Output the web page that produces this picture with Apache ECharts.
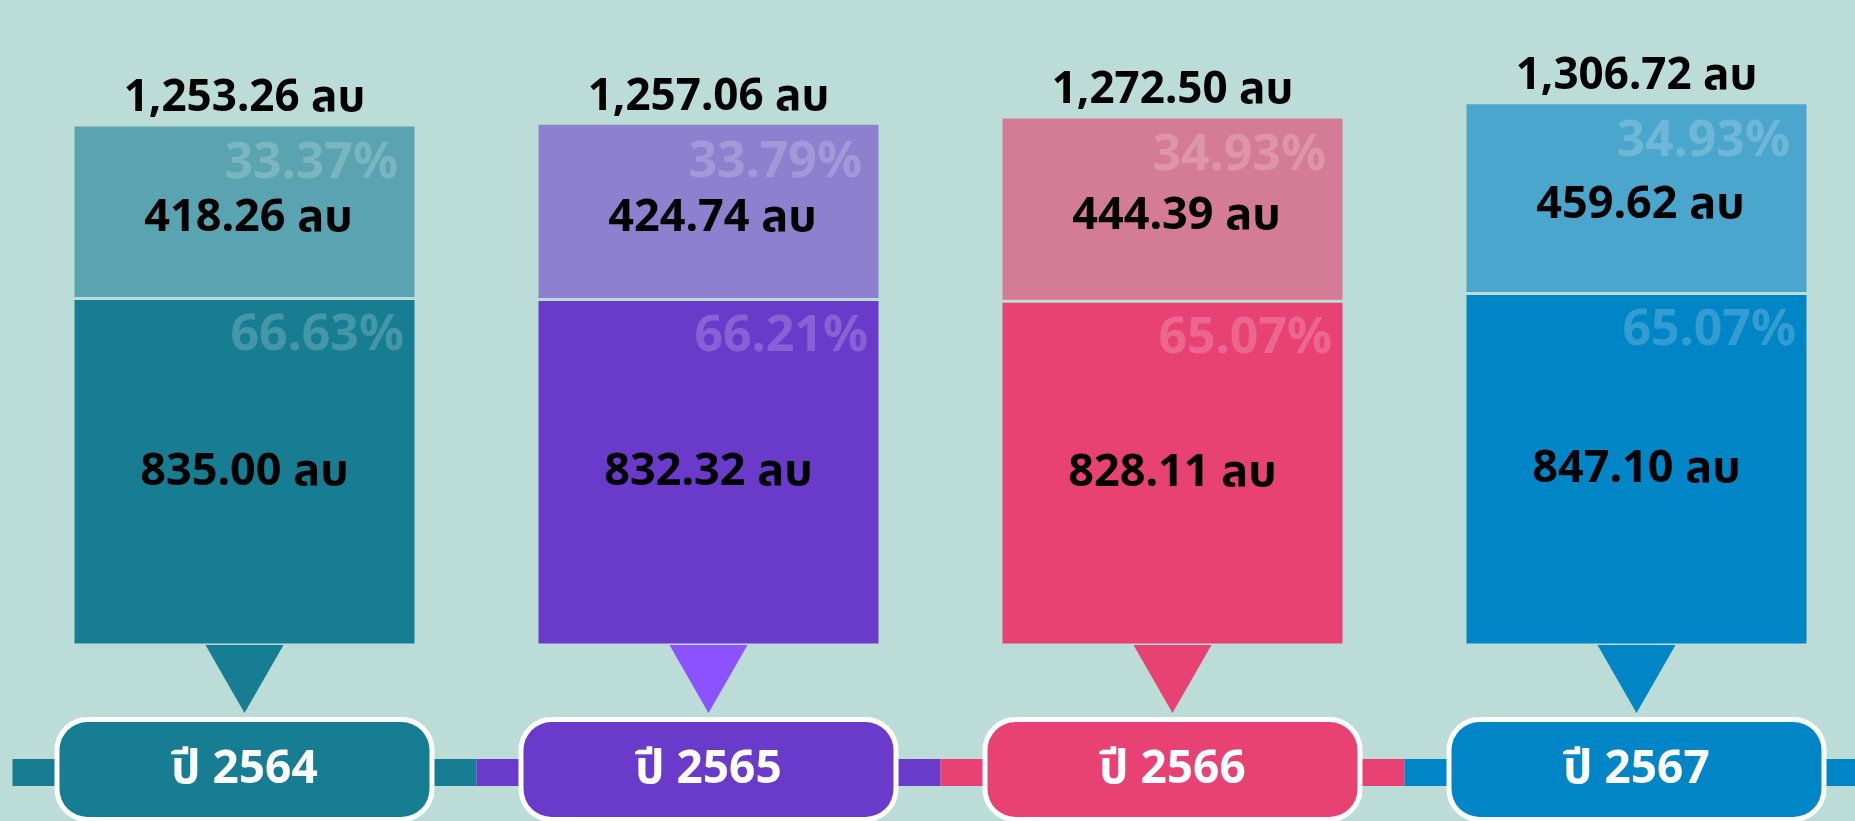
<!DOCTYPE html>
<html>
<head>
<meta charset="utf-8">
<script src="https://cdn.jsdelivr.net/npm/echarts@6/dist/echarts.min.js"></script>
<style>
  html, body { margin: 0; padding: 0; background: #bcddd7; }
  #chart { width: 1855px; height: 821px; }
</style>
</head>
<body>
<div id="chart"></div>
<script>
// ข้อมูล (ล้านบาท)
const years = ["2564", "2565", "2566", "2567"];
const lowerVals = [835.00, 832.32, 828.11, 847.10];
const upperVals = [418.26, 424.74, 444.39, 459.62];
const totals = [1253.26, 1257.06, 1272.50, 1306.72];
const lowerPct = ["66.63%", "66.21%", "65.07%", "65.07%"];
const upperPct = ["33.37%", "33.79%", "34.93%", "34.93%"];
const timeline = [1, 1, 1, 1];

const lowerColors = ["#177d93", "#6a3bca", "#e84274", "#0085c6"];
const upperColors = ["#5aa3b0", "#8c80cf", "#d47b95", "#4aa6cd"];
const pointerColors = ["#177d93", "#8c52ff", "#e84274", "#0085c6"];

const bg = "#bcddd7";
const font = "'Noto Sans', 'Noto Sans Thai', 'DejaVu Sans', sans-serif";
const fmt = (v) => v.toLocaleString("en-US", { minimumFractionDigits: 2, maximumFractionDigits: 2 });

const chart = echarts.init(document.getElementById("chart"));

const valueLabel = {
  show: true,
  position: "inside",
  color: "#000",
  fontSize: 45,
  fontWeight: "bold",
  fontFamily: font,
  formatter: (p) => fmt(p.value) + " ลบ",
};
const pctLabel = {
  show: true,
  position: "insideTopRight",
  distance: 14,
  color: "rgba(255,255,255,0.2)",
  fontSize: 50,
  fontWeight: "bold",
  fontFamily: font,
};

let option = {
  backgroundColor: bg,
  animation: false,
  grid: [
    { left: 12.5, width: 1856, top: 22.5, bottom: 176, outerBoundsMode: "none" },
    { left: 12.5, width: 1856, top: 759, height: 27, outerBoundsMode: "none" },
  ],
  xAxis: [
    { type: "category", data: years, gridIndex: 0, show: false },
    { type: "category", data: years, gridIndex: 1, show: false },
  ],
  yAxis: [
    { type: "value", gridIndex: 0, min: 0, max: 1500, show: false },
    { type: "value", gridIndex: 1, min: 0, max: 1, show: false },
  ],
  series: [
    {
      type: "bar",
      stack: "v",
      barWidth: 343,
      barGap: "-100%",
      data: lowerVals.map((v, i) => ({ value: v, itemStyle: { color: lowerColors[i] } })),
      itemStyle: { borderColor: bg, borderWidth: 1.5 },
      label: valueLabel,
    },
    {
      type: "bar",
      stack: "v",
      barWidth: 343,
      barGap: "-100%",
      data: upperVals.map((v, i) => ({ value: v, itemStyle: { color: upperColors[i] } })),
      itemStyle: { borderColor: bg, borderWidth: 1.5 },
      label: Object.assign({}, valueLabel, { offset: [4, 7] }),
    },
    {
      type: "bar",
      stack: "p",
      barWidth: 343,
      barGap: "-100%",
      data: lowerVals,
      itemStyle: { color: "transparent" },
      label: Object.assign({}, pctLabel, { distance: 12, formatter: (p) => lowerPct[p.dataIndex] }),
    },
    {
      type: "bar",
      stack: "p",
      barWidth: 343,
      barGap: "-100%",
      data: upperVals,
      itemStyle: { color: "transparent" },
      label: Object.assign({}, pctLabel, { offset: [-4, 0], formatter: (p) => upperPct[p.dataIndex] }),
    },
    {
      // ยอดรวม
      type: "bar",
      barWidth: 343,
      barGap: "-100%",
      data: totals,
      itemStyle: { color: "transparent" },
      label: {
        show: true,
        position: "top",
        distance: 4,
        color: "#000",
        fontSize: 44,
        fontWeight: "bold",
        fontFamily: font,
        formatter: (p) => fmt(p.value) + " ลบ",
      },
    },
    {
      // หัวลูกศรชี้ลง
      type: "scatter",
      symbol: "triangle",
      symbolRotate: 180,
      symbolSize: [78, 68],
      symbolOffset: [0, 34],
      itemStyle: { opacity: 1 },
      data: years.map((y, i) => ({ value: [y, 0], itemStyle: { color: pointerColors[i], opacity: 1 } })),
      z: 1,
    },
    {
      // เส้นเวลา
      type: "bar",
      xAxisIndex: 1,
      yAxisIndex: 1,
      barWidth: "100%",
      data: timeline.map((v, i) => ({
        value: v,
        itemStyle: { color: lowerColors[i] },
        label: { backgroundColor: lowerColors[i] },
      })),
      label: {
        show: true,
        position: "inside",
        offset: [0, -3],
        formatter: (p) => "ปี " + years[p.dataIndex],
        width: 370,
        height: 89,
        lineHeight: 89,
        padding: [6, 0, 0, 0],
        align: "center",
        verticalAlign: "middle",
        borderColor: "#fff",
        borderWidth: 5,
        borderRadius: 28,
        color: "#fff",
        fontSize: 46,
        fontWeight: "bold",
        fontFamily: font,
      },
    },
  ],
};

chart.setOption(option, true);
</script>
</body>
</html>
